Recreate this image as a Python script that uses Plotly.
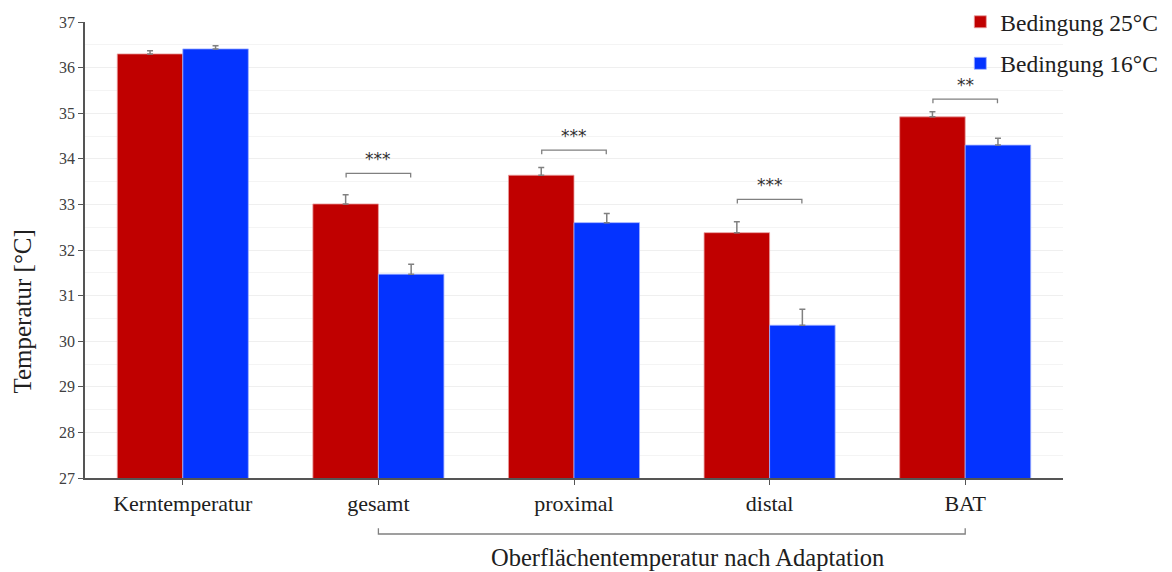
import plotly.graph_objects as go

categories = ["Kerntemperatur", "gesamt", "proximal", "distal", "BAT"]
temp_25 = [36.30, 33.01, 33.64, 32.38, 34.92]
err_25 = [0.07, 0.20, 0.17, 0.24, 0.11]
temp_16 = [36.41, 31.47, 32.60, 30.35, 34.30]
err_16 = [0.07, 0.22, 0.20, 0.35, 0.15]
series_names = ["Bedingung 25°C", "Bedingung 16°C"]
sig_categories = [1, 2, 3, 4]
sig_levels = [33.68, 34.19, 33.11, 35.31]
sig_labels = ["***", "***", "***", "**"]
group_label = "Oberflächentemperatur nach Adaptation"
y_title = "Temperatur [°C]"

RED = "#C00000"
BLUE = "#0433FF"
SERIF = "Liberation Serif, Times New Roman, serif"
GRAY = "#808080"

fig = go.Figure()
fig.add_trace(go.Bar(
    x=categories, y=temp_25, name=series_names[0],
    marker=dict(color=RED, line=dict(color="#e8a0a0", width=0.8)),
    error_y=dict(type="data", array=err_25, arrayminus=[0]*len(err_25), symmetric=False,
                 color=GRAY, thickness=1.5, width=3),
    legendgroup="a",
))
fig.add_trace(go.Bar(
    x=categories, y=temp_16, name=series_names[1],
    marker=dict(color=BLUE, line=dict(color="#a0b0ff", width=0.8)),
    error_y=dict(type="data", array=err_16, arrayminus=[0]*len(err_16), symmetric=False,
                 color=GRAY, thickness=1.5, width=3),
    legendgroup="b",
))

shapes = []
annotations = []
half = 0.165
for ci, lvl, lab in zip(sig_categories, sig_levels, sig_labels):
    shapes.append(dict(
        type="path", xref="x", yref="y",
        path=f"M {ci-half},{lvl-0.09} L {ci-half},{lvl} L {ci+half},{lvl} L {ci+half},{lvl-0.09}",
        line=dict(color=GRAY, width=1.3),
    ))
    annotations.append(dict(
        x=ci, y=lvl, xref="x", yref="y", text=lab, showarrow=False,
        yanchor="middle", yshift=14,
        font=dict(family="DejaVu Sans", size=17, color="#303030"),
    ))

# group bracket under x axis
y_br = -0.1228
y_br_top = -0.110
shapes.append(dict(
    type="path", xref="x", yref="paper",
    path=f"M 1,{y_br_top} L 1,{y_br} L 4,{y_br} L 4,{y_br_top}",
    line=dict(color=GRAY, width=1.3),
))
annotations.append(dict(
    x=2.58, y=-0.175, xref="x", yref="paper", text=group_label, showarrow=False,
    yanchor="middle", font=dict(family=SERIF, size=24.5, color="#202020"),
))
annotations.append(dict(
    x=-0.0634, y=0.365, xref="paper", yref="paper", text=y_title, showarrow=False,
    textangle=-90, xanchor="center", yanchor="middle",
    font=dict(family=SERIF, size=25, color="#202020"),
))

fig.update_layout(
    width=1172, height=572,
    margin=dict(l=85, r=109, t=22, b=94, autoexpand=False),
    paper_bgcolor="white", plot_bgcolor="white",
    barmode="group", bargap=0.33, bargroupgap=0,
    font=dict(family=SERIF, color="#202020"),
    shapes=shapes, annotations=annotations,
    showlegend=True,
    legend=dict(
        x=0.895, y=1.004, xref="paper", yref="container", xanchor="left", yanchor="top",
        font=dict(family=SERIF, size=23.5, color="#202020"),
        bgcolor="rgba(0,0,0,0)", traceorder="grouped", tracegroupgap=8,
    ),
)
fig.update_xaxes(
    type="category", range=[-0.5, 4.5],
    showline=True, linecolor="#555555", linewidth=1.5,
    ticks="outside", ticklen=5, tickcolor="#555555", tickwidth=1.2,
    tickfont=dict(family=SERIF, size=22, color="#202020"),
    showgrid=False,
)
fig.update_yaxes(
    range=[27, 37], dtick=1, tick0=27,
    showline=True, linecolor="#555555", linewidth=1.5,
    ticks="outside", ticklen=5, tickcolor="#555555", tickwidth=1.2,
    tickfont=dict(family=SERIF, size=16, color="#404040"),
    showgrid=True, gridcolor="#efefef", gridwidth=1,
    minor=dict(dtick=0.5, showgrid=True, gridcolor="#f4f4f4", gridwidth=1, ticks=""),
    zeroline=False,
)

fig.write_html("out.html")
